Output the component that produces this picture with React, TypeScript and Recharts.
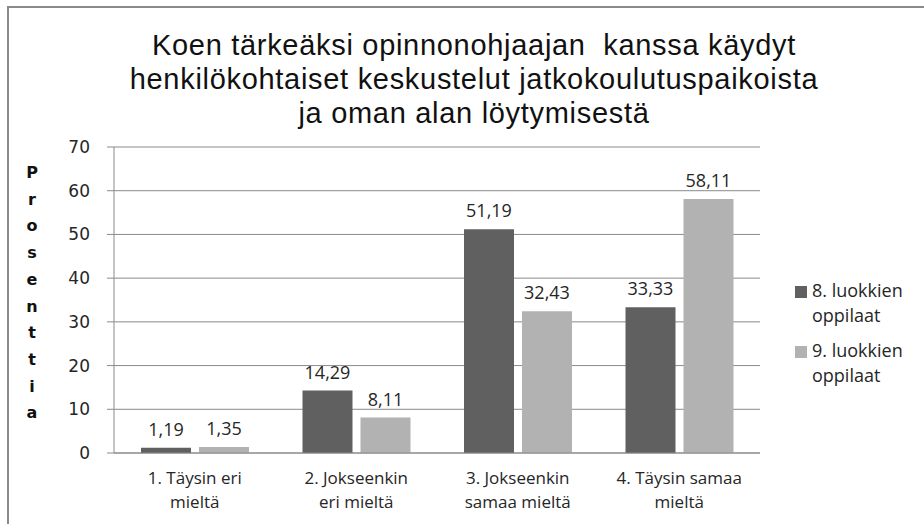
import React from 'react';
import { BarChart, Bar, XAxis, YAxis, CartesianGrid, LabelList } from 'recharts';

const categories = ['1. Täysin eri mieltä', '2. Jokseenkin eri mieltä', '3. Jokseenkin samaa mieltä', '4. Täysin samaa mieltä'];
const categoryLines = [
  ['1. Täysin eri', 'mieltä'],
  ['2. Jokseenkin', 'eri mieltä'],
  ['3. Jokseenkin', 'samaa mieltä'],
  ['4. Täysin samaa', 'mieltä'],
];
const grade8 = [1.19, 14.29, 51.19, 33.33];
const grade9 = [1.35, 8.11, 32.43, 58.11];
const seriesNames = ['8. luokkien oppilaat', '9. luokkien oppilaat'];
const seriesLegendLines = [['8. luokkien', 'oppilaat'], ['9. luokkien', 'oppilaat']];
const seriesColors = ['#606060', '#b2b2b2'];
const yTicks = [0, 10, 20, 30, 40, 50, 60, 70];
const titleLines = [
  'Koen tärkeäksi opinnonohjaajan  kanssa käydyt',
  'henkilökohtaiset keskustelut jatkokoulutuspaikoista',
  'ja oman alan löytymisestä',
];
const yLabel = 'Prosenttia';

const data = categories.map((c, i) => ({ name: c, g8: grade8[i], g9: grade9[i] }));
const edgeTicks = [...categories.map((_, i) => i), categories.length];

const calibriLike = "'Open Sans', 'Liberation Sans', sans-serif";
const titleFont = "'Liberation Sans', Arial, sans-serif";
const verdanaLike = "'DejaVu Sans', Verdana, sans-serif";

const fmt = (v: any) => Number(v).toFixed(2).replace('.', ',');

const CategoryTick = (props: any) => {
  const { x, y, index } = props;
  const lines = categoryLines[index] || [];
  return (
    <text x={x} y={y} textAnchor="middle" fill="#262626" fontSize={17} fontFamily={calibriLike}>
      {lines.map((l, i) => (
        <tspan key={i} x={x} dy={i === 0 ? 31 : 24}>{l}</tspan>
      ))}
    </text>
  );
};

export default function App() {
  return (
    <div style={{ position: 'absolute', left: 0, top: 0, width: 924, height: 524, overflow: 'hidden', background: '#fff' }}>
      <div style={{ position: 'absolute', left: 7, top: 6, width: 1000, height: 1000, border: '2px solid #8a8a8a' }} />
      <div style={{ position: 'absolute', left: 74, top: 28, width: 800, textAlign: 'center', fontFamily: titleFont, fontSize: 29, letterSpacing: '0.7px', lineHeight: '34px', color: '#111' }}>
        {titleLines.map((l, i) => (<div key={i} style={{ whiteSpace: 'pre' }}>{l}</div>))}
      </div>
      <div style={{ position: 'absolute', left: 20, top: 160, width: 24, textAlign: 'center', fontFamily: verdanaLike, fontWeight: 'bold', fontSize: 16, lineHeight: '26.7px', color: '#111' }}>
        {yLabel.split('').map((ch, i) => (<div key={i}>{ch}</div>))}
      </div>
      <div style={{ position: 'absolute', left: 0, top: 0 }}>
        <BarChart width={924} height={524} data={data} margin={{ top: 147, right: 164, bottom: 21, left: 54 }} barSize={50} barGap={8}>
          <CartesianGrid vertical={false} stroke="#8a8a8a" />
          <XAxis xAxisId="edges" type="number" domain={[0, categories.length]} ticks={edgeTicks} interval={0} axisLine={false} tickSize={7} tickLine={{ stroke: '#8a8a8a' }} tickFormatter={() => ''} height={0} allowDataOverflow />
          <XAxis dataKey="name" tickLine={false} tickSize={0} tickMargin={0} axisLine={{ stroke: '#8a8a8a' }} tick={<CategoryTick />} interval={0} height={50} />
          <YAxis domain={[0, 70]} ticks={yTicks} interval={0} width={60} tickSize={7} tickMargin={17} axisLine={{ stroke: '#8a8a8a' }} tickLine={{ stroke: '#8a8a8a' }} tick={{ fill: '#262626', fontSize: 17, fontFamily: verdanaLike }} />
          <Bar dataKey="g8" name={seriesNames[0]} fill={seriesColors[0]} isAnimationActive={false}>
            <LabelList dataKey="g8" position="top" offset={12} formatter={fmt} fill="#262626" fontSize={18} fontFamily={calibriLike} />
          </Bar>
          <Bar dataKey="g9" name={seriesNames[1]} fill={seriesColors[1]} isAnimationActive={false}>
            <LabelList dataKey="g9" position="top" offset={12} formatter={fmt} fill="#262626" fontSize={18} fontFamily={calibriLike} />
          </Bar>
        </BarChart>
      </div>
      <div style={{ position: 'absolute', left: 795, top: 278, fontFamily: calibriLike, fontSize: 18, lineHeight: '25px', color: '#262626' }}>
        {seriesLegendLines.map((lines, i) => (
          <div key={i} style={{ position: 'relative', height: 60 }}>
            <div style={{ position: 'absolute', left: 0, top: 8, width: 12, height: 12, background: seriesColors[i] }} />
            <div style={{ position: 'absolute', left: 17, top: 0, whiteSpace: 'nowrap' }}>
              {lines.map((l, j) => (<div key={j}>{l}</div>))}
            </div>
          </div>
        ))}
      </div>
    </div>
  );
}
